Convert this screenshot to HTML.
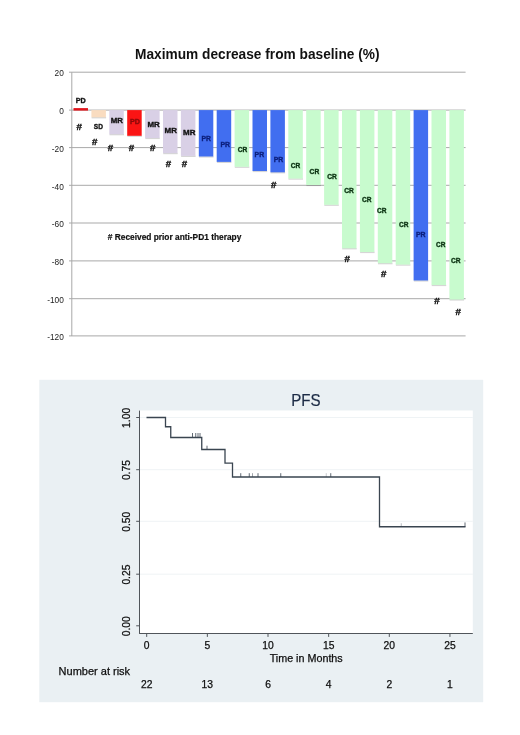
<!DOCTYPE html>
<html><head><meta charset="utf-8"><title>Maximum decrease from baseline / PFS</title>
<style>
html,body{margin:0;padding:0;background:#fff;}
body{width:520px;height:735px;overflow:hidden;font-family:"Liberation Sans",sans-serif;}
svg{display:block;}
text{font-family:"Liberation Sans",sans-serif;}
.b{font-weight:bold;}
</style></head><body>
<svg width="520" height="735" viewBox="0 0 520 735">
<rect x="0" y="0" width="520" height="735" fill="#ffffff"/>

<g id="waterfall">
<text class="b" x="135.0" y="58.7" font-size="14.8" textLength="244.5" lengthAdjust="spacingAndGlyphs" fill="#111">Maximum decrease from baseline (%)</text>
<line x1="69.0" y1="72.20" x2="465.6" y2="72.20" stroke="#a9a9a9" stroke-width="1"/>
<text x="63.8" y="76.40" font-size="8.3" text-anchor="end" fill="#222">20</text>
<line x1="69.0" y1="110.10" x2="465.6" y2="110.10" stroke="#a9a9a9" stroke-width="1"/>
<text x="63.8" y="114.30" font-size="8.3" text-anchor="end" fill="#222">0</text>
<line x1="69.0" y1="147.60" x2="465.6" y2="147.60" stroke="#a9a9a9" stroke-width="1"/>
<text x="63.8" y="151.80" font-size="8.3" text-anchor="end" fill="#222">-20</text>
<line x1="69.0" y1="185.30" x2="465.6" y2="185.30" stroke="#a9a9a9" stroke-width="1"/>
<text x="63.8" y="189.50" font-size="8.3" text-anchor="end" fill="#222">-40</text>
<line x1="69.0" y1="223.00" x2="465.6" y2="223.00" stroke="#a9a9a9" stroke-width="1"/>
<text x="63.8" y="227.20" font-size="8.3" text-anchor="end" fill="#222">-60</text>
<line x1="69.0" y1="260.90" x2="465.6" y2="260.90" stroke="#a9a9a9" stroke-width="1"/>
<text x="63.8" y="265.10" font-size="8.3" text-anchor="end" fill="#222">-80</text>
<line x1="69.0" y1="298.70" x2="465.6" y2="298.70" stroke="#a9a9a9" stroke-width="1"/>
<text x="63.8" y="302.90" font-size="8.3" text-anchor="end" fill="#222">-100</text>
<line x1="69.0" y1="335.90" x2="465.6" y2="335.90" stroke="#a9a9a9" stroke-width="1"/>
<text x="63.8" y="340.10" font-size="8.3" text-anchor="end" fill="#222">-120</text>
<line x1="71.8" y1="72.2" x2="71.8" y2="336.0" stroke="#a9a9a9" stroke-width="1"/>
<rect x="73.50" y="108.10" width="14.5" height="2.50" fill="#e0141c"/>
<rect x="91.60" y="117.00" width="14.5" height="1.4" fill="#000" opacity="0.16"/>
<rect x="91.40" y="110.10" width="14.5" height="7.20" fill="#f9dcc0"/>
<rect x="109.50" y="133.90" width="14.5" height="1.4" fill="#000" opacity="0.16"/>
<rect x="109.30" y="110.10" width="14.5" height="24.10" fill="#d9d0e6"/>
<rect x="127.40" y="135.50" width="14.5" height="1.4" fill="#000" opacity="0.16"/>
<rect x="127.20" y="110.10" width="14.5" height="25.70" fill="#fb1414"/>
<rect x="145.30" y="137.70" width="14.5" height="1.4" fill="#000" opacity="0.16"/>
<rect x="145.10" y="110.10" width="14.5" height="27.90" fill="#d9d0e6"/>
<rect x="163.20" y="152.80" width="14.5" height="1.4" fill="#000" opacity="0.16"/>
<rect x="163.00" y="110.10" width="14.5" height="43.00" fill="#d9d0e6"/>
<rect x="181.10" y="155.60" width="14.5" height="1.4" fill="#000" opacity="0.16"/>
<rect x="180.90" y="110.10" width="14.5" height="45.80" fill="#d9d0e6"/>
<rect x="199.00" y="156.20" width="14.5" height="1.4" fill="#000" opacity="0.16"/>
<rect x="198.80" y="110.10" width="14.5" height="46.40" fill="#416ef0"/>
<rect x="216.90" y="161.60" width="14.5" height="1.4" fill="#000" opacity="0.16"/>
<rect x="216.70" y="110.10" width="14.5" height="51.80" fill="#416ef0"/>
<rect x="234.80" y="166.50" width="14.5" height="1.4" fill="#000" opacity="0.16"/>
<rect x="234.60" y="110.10" width="14.5" height="56.70" fill="#c8fbce"/>
<rect x="252.70" y="170.70" width="14.5" height="1.4" fill="#000" opacity="0.16"/>
<rect x="252.50" y="110.10" width="14.5" height="60.90" fill="#416ef0"/>
<rect x="270.60" y="172.00" width="14.5" height="1.4" fill="#000" opacity="0.16"/>
<rect x="270.40" y="110.10" width="14.5" height="62.20" fill="#416ef0"/>
<rect x="288.50" y="178.30" width="14.5" height="1.4" fill="#000" opacity="0.16"/>
<rect x="288.30" y="110.10" width="14.5" height="68.50" fill="#c8fbce"/>
<rect x="306.40" y="184.70" width="14.5" height="1.4" fill="#000" opacity="0.16"/>
<rect x="306.20" y="110.10" width="14.5" height="74.90" fill="#c8fbce"/>
<rect x="324.30" y="204.50" width="14.5" height="1.4" fill="#000" opacity="0.16"/>
<rect x="324.10" y="110.10" width="14.5" height="94.70" fill="#c8fbce"/>
<rect x="342.20" y="248.00" width="14.5" height="1.4" fill="#000" opacity="0.16"/>
<rect x="342.00" y="110.10" width="14.5" height="138.20" fill="#c8fbce"/>
<rect x="360.10" y="251.70" width="14.5" height="1.4" fill="#000" opacity="0.16"/>
<rect x="359.90" y="110.10" width="14.5" height="141.90" fill="#c8fbce"/>
<rect x="378.00" y="262.90" width="14.5" height="1.4" fill="#000" opacity="0.16"/>
<rect x="377.80" y="110.10" width="14.5" height="153.10" fill="#c8fbce"/>
<rect x="395.90" y="264.30" width="14.5" height="1.4" fill="#000" opacity="0.16"/>
<rect x="395.70" y="110.10" width="14.5" height="154.50" fill="#c8fbce"/>
<rect x="413.80" y="280.20" width="14.5" height="1.4" fill="#000" opacity="0.16"/>
<rect x="413.60" y="110.10" width="14.5" height="170.40" fill="#416ef0"/>
<rect x="431.70" y="284.70" width="14.5" height="1.4" fill="#000" opacity="0.16"/>
<rect x="431.50" y="110.10" width="14.5" height="174.90" fill="#c8fbce"/>
<rect x="449.60" y="299.20" width="14.5" height="1.4" fill="#000" opacity="0.16"/>
<rect x="449.40" y="110.10" width="14.5" height="189.40" fill="#c8fbce"/>
<text class="b" x="75.8" y="103.25" font-size="7.9" textLength="10.0" lengthAdjust="spacingAndGlyphs" fill="#141414" stroke="#141414" stroke-width="0.4">PD</text>
<text class="b" x="93.8" y="128.55" font-size="7.9" textLength="9.2" lengthAdjust="spacingAndGlyphs" fill="#141414" stroke="#141414" stroke-width="0.4">SD</text>
<text class="b" x="110.8" y="123.25" font-size="7.9" textLength="12.2" lengthAdjust="spacingAndGlyphs" fill="#141414" stroke="#141414" stroke-width="0.4">MR</text>
<text class="b" x="130.0" y="124.25" font-size="7.9" textLength="10.0" lengthAdjust="spacingAndGlyphs" fill="#8c0a0a" stroke="#8c0a0a" stroke-width="0.4">PD</text>
<text class="b" x="147.4" y="126.65" font-size="7.9" textLength="12.3" lengthAdjust="spacingAndGlyphs" fill="#141414" stroke="#141414" stroke-width="0.4">MR</text>
<text class="b" x="164.6" y="132.85" font-size="7.9" textLength="12.4" lengthAdjust="spacingAndGlyphs" fill="#141414" stroke="#141414" stroke-width="0.4">MR</text>
<text class="b" x="183.0" y="135.45" font-size="7.9" textLength="12.4" lengthAdjust="spacingAndGlyphs" fill="#141414" stroke="#141414" stroke-width="0.4">MR</text>
<text class="b" x="201.5" y="141.25" font-size="7.9" textLength="9.5" lengthAdjust="spacingAndGlyphs" fill="#0c1f7c" stroke="#0c1f7c" stroke-width="0.4">PR</text>
<text class="b" x="220.4" y="147.25" font-size="7.9" textLength="9.6" lengthAdjust="spacingAndGlyphs" fill="#0c1f7c" stroke="#0c1f7c" stroke-width="0.4">PR</text>
<text class="b" x="237.7" y="152.45" font-size="7.9" textLength="9.6" lengthAdjust="spacingAndGlyphs" fill="#0b3312" stroke="#0b3312" stroke-width="0.4">CR</text>
<text class="b" x="254.6" y="157.25" font-size="7.9" textLength="9.6" lengthAdjust="spacingAndGlyphs" fill="#0c1f7c" stroke="#0c1f7c" stroke-width="0.4">PR</text>
<text class="b" x="273.7" y="162.05" font-size="7.9" textLength="9.6" lengthAdjust="spacingAndGlyphs" fill="#0c1f7c" stroke="#0c1f7c" stroke-width="0.4">PR</text>
<text class="b" x="290.7" y="167.55" font-size="7.9" textLength="9.5" lengthAdjust="spacingAndGlyphs" fill="#0b3312" stroke="#0b3312" stroke-width="0.4">CR</text>
<text class="b" x="309.6" y="174.35" font-size="7.9" textLength="9.6" lengthAdjust="spacingAndGlyphs" fill="#0b3312" stroke="#0b3312" stroke-width="0.4">CR</text>
<text class="b" x="327.3" y="179.15" font-size="7.9" textLength="9.6" lengthAdjust="spacingAndGlyphs" fill="#0b3312" stroke="#0b3312" stroke-width="0.4">CR</text>
<text class="b" x="344.2" y="192.65" font-size="7.9" textLength="9.6" lengthAdjust="spacingAndGlyphs" fill="#0b3312" stroke="#0b3312" stroke-width="0.4">CR</text>
<text class="b" x="362.0" y="202.45" font-size="7.9" textLength="9.5" lengthAdjust="spacingAndGlyphs" fill="#0b3312" stroke="#0b3312" stroke-width="0.4">CR</text>
<text class="b" x="377.0" y="213.45" font-size="7.9" textLength="9.5" lengthAdjust="spacingAndGlyphs" fill="#0b3312" stroke="#0b3312" stroke-width="0.4">CR</text>
<text class="b" x="399.1" y="226.75" font-size="7.9" textLength="9.5" lengthAdjust="spacingAndGlyphs" fill="#0b3312" stroke="#0b3312" stroke-width="0.4">CR</text>
<text class="b" x="416.0" y="237.35" font-size="7.9" textLength="9.6" lengthAdjust="spacingAndGlyphs" fill="#0c1f7c" stroke="#0c1f7c" stroke-width="0.4">PR</text>
<text class="b" x="436.0" y="247.05" font-size="7.9" textLength="9.4" lengthAdjust="spacingAndGlyphs" fill="#0b3312" stroke="#0b3312" stroke-width="0.4">CR</text>
<text class="b" x="450.9" y="263.25" font-size="7.9" textLength="9.6" lengthAdjust="spacingAndGlyphs" fill="#0b3312" stroke="#0b3312" stroke-width="0.4">CR</text>
<text class="b" x="76.5" y="129.8" font-size="9.9" textLength="5.4" lengthAdjust="spacingAndGlyphs" fill="#111" stroke="#111" stroke-width="0.4">#</text>
<text class="b" x="92.0" y="145.3" font-size="9.9" textLength="5.4" lengthAdjust="spacingAndGlyphs" fill="#111" stroke="#111" stroke-width="0.4">#</text>
<text class="b" x="107.7" y="150.8" font-size="9.9" textLength="5.4" lengthAdjust="spacingAndGlyphs" fill="#111" stroke="#111" stroke-width="0.4">#</text>
<text class="b" x="128.8" y="150.8" font-size="9.9" textLength="5.4" lengthAdjust="spacingAndGlyphs" fill="#111" stroke="#111" stroke-width="0.4">#</text>
<text class="b" x="150.0" y="150.60000000000002" font-size="9.9" textLength="5.4" lengthAdjust="spacingAndGlyphs" fill="#111" stroke="#111" stroke-width="0.4">#</text>
<text class="b" x="165.8" y="166.8" font-size="9.9" textLength="5.4" lengthAdjust="spacingAndGlyphs" fill="#111" stroke="#111" stroke-width="0.4">#</text>
<text class="b" x="181.8" y="166.8" font-size="9.9" textLength="5.4" lengthAdjust="spacingAndGlyphs" fill="#111" stroke="#111" stroke-width="0.4">#</text>
<text class="b" x="271.0" y="188.10000000000002" font-size="9.9" textLength="5.4" lengthAdjust="spacingAndGlyphs" fill="#111" stroke="#111" stroke-width="0.4">#</text>
<text class="b" x="344.6" y="261.8" font-size="9.9" textLength="5.4" lengthAdjust="spacingAndGlyphs" fill="#111" stroke="#111" stroke-width="0.4">#</text>
<text class="b" x="381.1" y="277.3" font-size="9.9" textLength="5.4" lengthAdjust="spacingAndGlyphs" fill="#111" stroke="#111" stroke-width="0.4">#</text>
<text class="b" x="434.2" y="304.2" font-size="9.9" textLength="5.4" lengthAdjust="spacingAndGlyphs" fill="#111" stroke="#111" stroke-width="0.4">#</text>
<text class="b" x="455.4" y="314.6" font-size="9.9" textLength="5.4" lengthAdjust="spacingAndGlyphs" fill="#111" stroke="#111" stroke-width="0.4">#</text>
<text class="b" x="107.8" y="239.9" font-size="8.8" textLength="133.5" lengthAdjust="spacingAndGlyphs" fill="#111" stroke="#111" stroke-width="0.2"># Received prior anti-PD1 therapy</text>
</g>
<g id="pfs">
<rect x="39.3" y="379.8" width="443.9" height="322.4" fill="#eaf0f3"/>
<rect x="139.5" y="410.5" width="333.3" height="222.6" fill="#ffffff"/>
<line x1="139.5" y1="574.2" x2="472.8" y2="574.2" stroke="#eff3f5" stroke-width="1"/>
<line x1="139.5" y1="521.3" x2="472.8" y2="521.3" stroke="#eff3f5" stroke-width="1"/>
<line x1="139.5" y1="469.7" x2="472.8" y2="469.7" stroke="#eff3f5" stroke-width="1"/>
<line x1="139.5" y1="417.5" x2="472.8" y2="417.5" stroke="#eff3f5" stroke-width="1"/>
<line x1="139.5" y1="410.6" x2="139.5" y2="633.5" stroke="#50555a" stroke-width="1"/>
<line x1="139.1" y1="633.5" x2="472.8" y2="633.5" stroke="#50555a" stroke-width="1"/>
<line x1="136.2" y1="625.8" x2="139.5" y2="625.8" stroke="#50555a" stroke-width="1"/>
<text transform="translate(129.5,626.20) rotate(-90)" font-size="10.3" text-anchor="middle" fill="#0e0e0e" stroke="#0e0e0e" stroke-width="0.25">0.00</text>
<line x1="136.2" y1="574.2" x2="139.5" y2="574.2" stroke="#50555a" stroke-width="1"/>
<text transform="translate(129.5,574.60) rotate(-90)" font-size="10.3" text-anchor="middle" fill="#0e0e0e" stroke="#0e0e0e" stroke-width="0.25">0.25</text>
<line x1="136.2" y1="521.3" x2="139.5" y2="521.3" stroke="#50555a" stroke-width="1"/>
<text transform="translate(129.5,521.70) rotate(-90)" font-size="10.3" text-anchor="middle" fill="#0e0e0e" stroke="#0e0e0e" stroke-width="0.25">0.50</text>
<line x1="136.2" y1="469.7" x2="139.5" y2="469.7" stroke="#50555a" stroke-width="1"/>
<text transform="translate(129.5,470.10) rotate(-90)" font-size="10.3" text-anchor="middle" fill="#0e0e0e" stroke="#0e0e0e" stroke-width="0.25">0.75</text>
<line x1="136.2" y1="417.5" x2="139.5" y2="417.5" stroke="#50555a" stroke-width="1"/>
<text transform="translate(129.5,417.90) rotate(-90)" font-size="10.3" text-anchor="middle" fill="#0e0e0e" stroke="#0e0e0e" stroke-width="0.25">1.00</text>
<line x1="146.70" y1="633.5" x2="146.70" y2="636.9" stroke="#50555a" stroke-width="1"/>
<text x="146.70" y="648.7" font-size="10.3" text-anchor="middle" fill="#0e0e0e" stroke="#0e0e0e" stroke-width="0.25">0</text>
<line x1="207.35" y1="633.5" x2="207.35" y2="636.9" stroke="#50555a" stroke-width="1"/>
<text x="207.35" y="648.7" font-size="10.3" text-anchor="middle" fill="#0e0e0e" stroke="#0e0e0e" stroke-width="0.25">5</text>
<line x1="268.00" y1="633.5" x2="268.00" y2="636.9" stroke="#50555a" stroke-width="1"/>
<text x="268.00" y="648.7" font-size="10.3" text-anchor="middle" fill="#0e0e0e" stroke="#0e0e0e" stroke-width="0.25">10</text>
<line x1="328.65" y1="633.5" x2="328.65" y2="636.9" stroke="#50555a" stroke-width="1"/>
<text x="328.65" y="648.7" font-size="10.3" text-anchor="middle" fill="#0e0e0e" stroke="#0e0e0e" stroke-width="0.25">15</text>
<line x1="389.30" y1="633.5" x2="389.30" y2="636.9" stroke="#50555a" stroke-width="1"/>
<text x="389.30" y="648.7" font-size="10.3" text-anchor="middle" fill="#0e0e0e" stroke="#0e0e0e" stroke-width="0.25">20</text>
<line x1="449.95" y1="633.5" x2="449.95" y2="636.9" stroke="#50555a" stroke-width="1"/>
<text x="449.95" y="648.7" font-size="10.3" text-anchor="middle" fill="#0e0e0e" stroke="#0e0e0e" stroke-width="0.25">25</text>
<text x="306.2" y="661.8" font-size="10.75" text-anchor="middle" fill="#0e0e0e" stroke="#0e0e0e" stroke-width="0.25">Time in Months</text>
<text x="291.2" y="405.6" font-size="16.2" textLength="29.4" lengthAdjust="spacingAndGlyphs" fill="#1c2b45" stroke="#1c2b45" stroke-width="0.2">PFS</text>
<text x="58.6" y="675" font-size="11" fill="#0e0e0e" stroke="#0e0e0e" stroke-width="0.25">Number at risk</text>
<text x="146.70" y="687.8" font-size="10.3" text-anchor="middle" fill="#0e0e0e" stroke="#0e0e0e" stroke-width="0.25">22</text>
<text x="207.35" y="687.8" font-size="10.3" text-anchor="middle" fill="#0e0e0e" stroke="#0e0e0e" stroke-width="0.25">13</text>
<text x="268.00" y="687.8" font-size="10.3" text-anchor="middle" fill="#0e0e0e" stroke="#0e0e0e" stroke-width="0.25">6</text>
<text x="328.65" y="687.8" font-size="10.3" text-anchor="middle" fill="#0e0e0e" stroke="#0e0e0e" stroke-width="0.25">4</text>
<text x="389.30" y="687.8" font-size="10.3" text-anchor="middle" fill="#0e0e0e" stroke="#0e0e0e" stroke-width="0.25">2</text>
<text x="449.95" y="687.8" font-size="10.3" text-anchor="middle" fill="#0e0e0e" stroke="#0e0e0e" stroke-width="0.25">1</text>
<path d="M146.5,417.5 H165.5 V426.75 H170.75 V437.5 H201.75 V449.5 H225 V463.2 H232.5 V477 H379.5 V526.75 H465.5" fill="none" stroke="#3a4550" stroke-width="1.3"/>
<line x1="192.5" y1="433.0" x2="192.5" y2="437.5" stroke="#3a4550" stroke-width="0.8" opacity="1"/>
<line x1="195.75" y1="433.0" x2="195.75" y2="437.5" stroke="#3a4550" stroke-width="0.8" opacity="1"/>
<line x1="198" y1="433.0" x2="198" y2="437.5" stroke="#3a4550" stroke-width="0.8" opacity="1"/>
<line x1="200" y1="433.0" x2="200" y2="437.5" stroke="#3a4550" stroke-width="0.8" opacity="1"/>
<line x1="207" y1="445.7" x2="207" y2="449.5" stroke="#3a4550" stroke-width="0.8" opacity="1"/>
<line x1="240.75" y1="473.2" x2="240.75" y2="477" stroke="#3a4550" stroke-width="0.8" opacity="1"/>
<line x1="249.25" y1="473.2" x2="249.25" y2="477" stroke="#3a4550" stroke-width="0.8" opacity="1"/>
<line x1="252.5" y1="473.2" x2="252.5" y2="477" stroke="#3a4550" stroke-width="0.8" opacity="0.6"/>
<line x1="258" y1="473.2" x2="258" y2="477" stroke="#3a4550" stroke-width="0.8" opacity="1"/>
<line x1="280.75" y1="473.2" x2="280.75" y2="477" stroke="#3a4550" stroke-width="0.8" opacity="1"/>
<line x1="326.25" y1="473.2" x2="326.25" y2="477" stroke="#3a4550" stroke-width="0.8" opacity="0.35"/>
<line x1="330.75" y1="473.2" x2="330.75" y2="477" stroke="#3a4550" stroke-width="0.8" opacity="1"/>
<line x1="401.25" y1="523.25" x2="401.25" y2="526.75" stroke="#3a4550" stroke-width="0.8" opacity="0.45"/>
<line x1="465" y1="522.45" x2="465" y2="526.75" stroke="#3a4550" stroke-width="0.8" opacity="1"/>
</g>
</svg></body></html>
